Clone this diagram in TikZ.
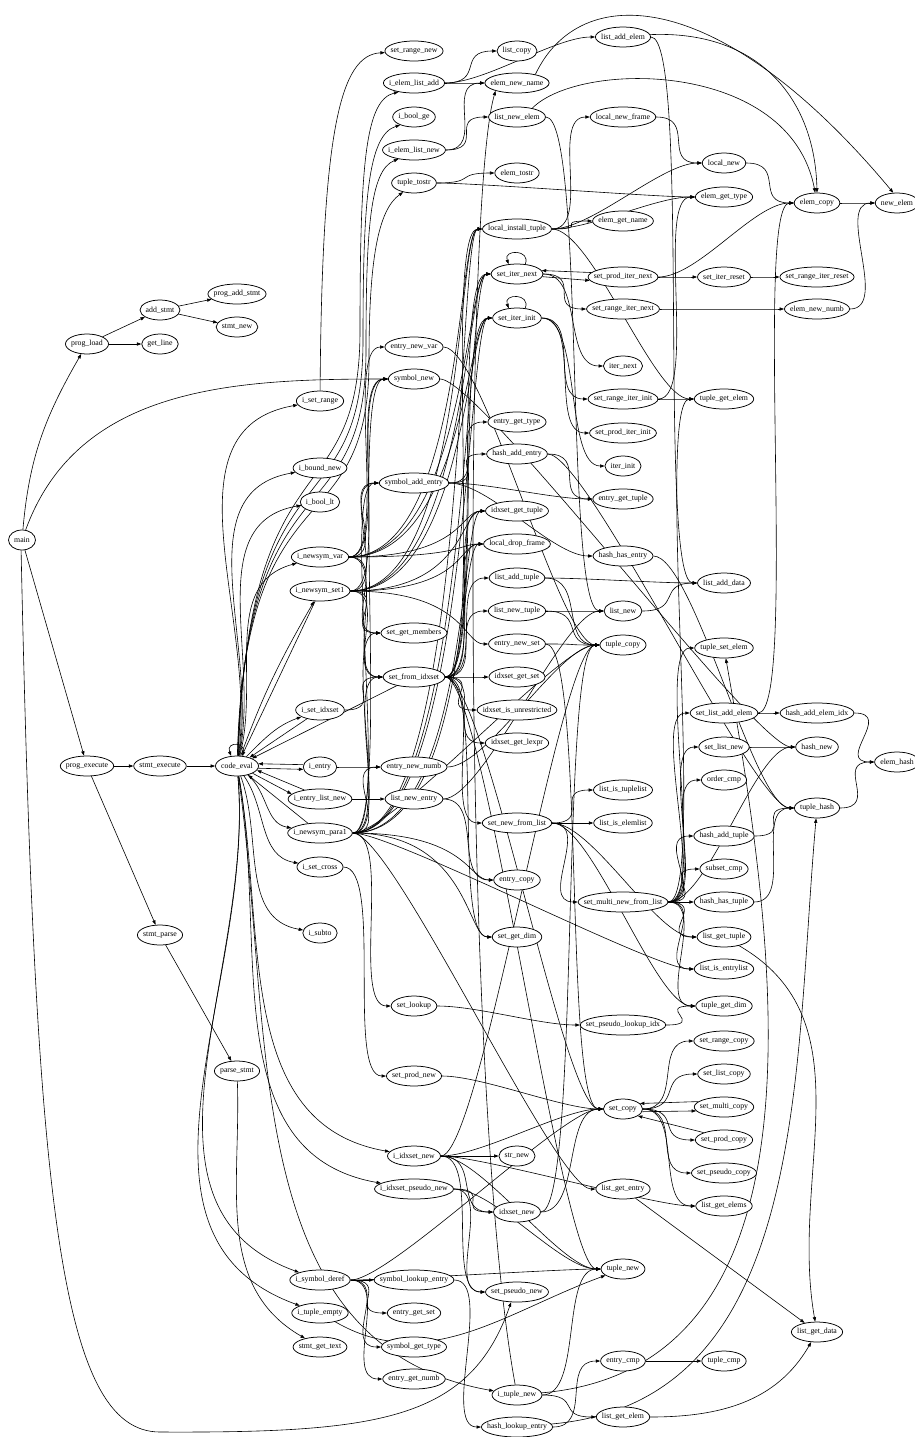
\documentclass[tikz,border=0pt]{standalone}
\usepackage{fontspec}
\setmainfont{Liberation Serif}
\usetikzlibrary{arrows.meta, shapes.geometric, calc}
\pgfdeclarelayer{back}
\pgfdeclarelayer{front}
\pgfsetlayers{back,main,front}
\newcommand\fnfont{\fontsize{7.8}{9}\selectfont}
\tikzset{
	fnbox/.style={ellipse, draw, line width=0.75pt, fill=white, inner sep=0pt, minimum height=20pt},
	fntext/.style={font=\fnfont, inner sep=0pt},
	call/.style={-{Triangle[length=4.5pt,width=3.2pt]}, line width=0.6pt},
	sway/.style={out=0, in=180, distance=40pt},
	bus/.style={out=0, in=180, out distance=115pt, in distance=25pt},
	line/.style={to path={-- (\tikztotarget) \tikztonodes}},
}
\newcommand\fn[3]{%
	\begin{pgfonlayer}{front}
		\node[fntext] (#1-t) at (#2,#3) {\detokenize{#1}};
	\end{pgfonlayer}
	\path let \p1=(#1-t.west), \p2=(#1-t.east) in node[fnbox, minimum width=\x2-\x1+11pt] (#1) at (#2,#3) {};}

\begin{document}
\begin{tikzpicture}[x=1pt, y=-1pt]
	\def\colA{22}
	\def\colB{87}
	\def\colC{160}
	\def\colD{237}
	\def\colE{320}
	\def\colF{414}
	\def\colG{517}
	\def\colH{623}
	\def\colI{724}
	\def\colJ{817}
	\def\colK{897}
	\useasboundingbox (0,0) rectangle (915,1437);

	\fn{main}{\colA}{540}
	\fn{prog_load}{\colB}{344}
	\fn{prog_execute}{\colB}{766}
	\fn{add_stmt}{\colC}{310}
	\fn{get_line}{\colC}{344}
	\fn{stmt_execute}{\colC}{766}
	\fn{stmt_parse}{\colC}{935}
	\fn{prog_add_stmt}{\colD}{294}
	\fn{stmt_new}{\colD}{327}
	\fn{code_eval}{\colD}{766}
	\fn{parse_stmt}{\colD}{1071}

	\fn{i_set_range}{\colE}{401}
	\fn{i_bound_new}{\colE}{468}
	\fn{i_bool_lt}{\colE}{502}
	\fn{i_newsym_var}{\colE}{557}
	\fn{i_newsym_set1}{\colE}{591}
	\fn{i_set_idxset}{\colE}{710}
	\fn{i_entry}{\colE}{767}
	\fn{i_entry_list_new}{\colE}{799}
	\fn{i_newsym_para1}{\colE}{833}
	\fn{i_set_cross}{\colE}{867}
	\fn{i_subto}{\colE}{933}
	\fn{i_symbol_deref}{\colE}{1280}
	\fn{i_tuple_empty}{\colE}{1313}
	\fn{stmt_get_text}{\colE}{1347}

	\fn{set_range_new}{\colF}{51}
	\fn{i_elem_list_add}{\colF}{83}
	\fn{i_bool_ge}{\colF}{117}
	\fn{i_elem_list_new}{\colF}{150}
	\fn{tuple_tostr}{\colF}{183}
	\fn{entry_new_var}{\colF}{347}
	\fn{symbol_new}{\colF}{379}
	\fn{symbol_add_entry}{\colF}{483}
	\fn{set_get_members}{\colF}{633}
	\fn{set_from_idxset}{\colF}{677}
	\fn{entry_new_numb}{\colF}{767}
	\fn{list_new_entry}{\colF}{799}
	\fn{set_lookup}{\colF}{1006}
	\fn{set_prod_new}{\colF}{1076}
	\fn{i_idxset_new}{\colF}{1156}
	\fn{i_idxset_pseudo_new}{\colF}{1189}
	\fn{symbol_lookup_entry}{\colF}{1280}
	\fn{entry_get_set}{\colF}{1313}
	\fn{symbol_get_type}{\colF}{1347}
	\fn{entry_get_numb}{\colF}{1379}

	\fn{list_copy}{\colG}{51}
	\fn{elem_new_name}{\colG}{83}
	\fn{list_new_elem}{\colG}{117}
	\fn{elem_tostr}{\colG}{173}
	\fn{local_install_tuple}{\colG}{229}
	\fn{set_iter_next}{\colG}{274}
	\fn{set_iter_init}{\colG}{318}
	\fn{entry_get_type}{\colG}{422}
	\fn{hash_add_entry}{\colG}{454}
	\fn{idxset_get_tuple}{\colG}{511}
	\fn{local_drop_frame}{\colG}{544}
	\fn{list_add_tuple}{\colG}{578}
	\fn{list_new_tuple}{\colG}{611}
	\fn{entry_new_set}{\colG}{644}
	\fn{idxset_get_set}{\colG}{677}
	\fn{idxset_is_unrestricted}{\colG}{710}
	\fn{idxset_get_lexpr}{\colG}{743}
	\fn{set_new_from_list}{\colG}{823}
	\fn{entry_copy}{\colG}{880}
	\fn{set_get_dim}{\colG}{937}
	\fn{str_new}{\colG}{1156}
	\fn{idxset_new}{\colG}{1212}
	\fn{set_pseudo_new}{\colG}{1292}
	\fn{i_tuple_new}{\colG}{1395}
	\fn{hash_lookup_entry}{\colG}{1427}

	\fn{list_add_elem}{\colH}{37}
	\fn{local_new_frame}{\colH}{117}
	\fn{elem_get_name}{\colH}{221}
	\fn{set_prod_iter_next}{\colH}{277}
	\fn{set_range_iter_next}{\colH}{309}
	\fn{iter_next}{\colH}{366}
	\fn{set_range_iter_init}{\colH}{399}
	\fn{set_prod_iter_init}{\colH}{433}
	\fn{iter_init}{\colH}{466}
	\fn{entry_get_tuple}{\colH}{499}
	\fn{hash_has_entry}{\colH}{556}
	\fn{list_new}{\colH}{611}
	\fn{tuple_copy}{\colH}{645}
	\fn{list_is_tuplelist}{\colH}{790}
	\fn{list_is_elemlist}{\colH}{823}
	\fn{set_multi_new_from_list}{\colH}{902}
	\fn{set_pseudo_lookup_idx}{\colH}{1025}
	\fn{set_copy}{\colH}{1109}
	\fn{list_get_entry}{\colH}{1189}
	\fn{tuple_new}{\colH}{1269}
	\fn{entry_cmp}{\colH}{1361}
	\fn{list_get_elem}{\colH}{1417}

	\fn{local_new}{\colI}{163}
	\fn{elem_get_type}{\colI}{197}
	\fn{set_iter_reset}{\colI}{277}
	\fn{tuple_get_elem}{\colI}{399}
	\fn{list_add_data}{\colI}{583}
	\fn{tuple_set_elem}{\colI}{648}
	\fn{set_list_add_elem}{\colI}{713}
	\fn{set_list_new}{\colI}{747}
	\fn{order_cmp}{\colI}{780}
	\fn{hash_add_tuple}{\colI}{836}
	\fn{subset_cmp}{\colI}{869}
	\fn{hash_has_tuple}{\colI}{902}
	\fn{list_get_tuple}{\colI}{937}
	\fn{list_is_entrylist}{\colI}{969}
	\fn{tuple_get_dim}{\colI}{1006}
	\fn{set_range_copy}{\colI}{1041}
	\fn{set_list_copy}{\colI}{1074}
	\fn{set_multi_copy}{\colI}{1107}
	\fn{set_prod_copy}{\colI}{1140}
	\fn{set_pseudo_copy}{\colI}{1173}
	\fn{list_get_elems}{\colI}{1206}
	\fn{tuple_cmp}{\colI}{1361}

	\fn{elem_copy}{\colJ}{203}
	\fn{set_range_iter_reset}{\colJ}{277}
	\fn{elem_new_numb}{\colJ}{309}
	\fn{hash_add_elem_idx}{\colJ}{713}
	\fn{hash_new}{\colJ}{747}
	\fn{tuple_hash}{\colJ}{808}
	\fn{list_get_data}{\colJ}{1332}
	\fn{new_elem}{\colK}{203}
	\fn{elem_hash}{\colK}{762}

	\begin{pgfonlayer}{back}
	% left part
	\draw[call] (main) edge[out=85,in=-120] (prog_load) edge[out=70,in=180] (symbol_new) edge[line] (prog_execute);
	\draw[call] (main.-95) .. controls (35,1200) and (60,1432) .. (160,1432) .. controls (380,1433) and (470,1420) .. (set_pseudo_new.-120);
	\draw[call,line] (prog_load) edge (add_stmt) edge (get_line);
	\draw[call,line] (add_stmt) edge (prog_add_stmt) edge (stmt_new);
	\draw[call,line] (prog_execute) edge (stmt_execute) edge (stmt_parse);
	\draw[call,line] (stmt_execute) edge (code_eval);
	\draw[call,line] (stmt_parse) edge (parse_stmt);
	\draw[call] (parse_stmt) edge[out=-88,in=150] (stmt_get_text);

	% code_eval
	\draw[call] (code_eval.60) .. controls +(6,-15) and +(-6,-15) .. (code_eval.120);
	\draw[call] (code_eval.82) .. controls (248,430) and (360,520) .. (360,330) .. controls (360,160) and (366,100) .. (i_elem_list_add.-150);
	\draw[call] (code_eval.84) .. controls (247,440) and (363,530) .. (363,340) .. controls (363,200) and (368,135) .. (i_bool_ge.-150);
	\draw[call] (code_eval.86) .. controls (246,450) and (366,540) .. (366,350) .. controls (366,230) and (370,170) .. (i_elem_list_new.-150);
	\draw[call] (code_eval.88) .. controls (245,460) and (369,550) .. (369,360) .. controls (369,260) and (378,210) .. (tuple_tostr.-140);
	\draw[call] (code_eval)
		edge[out=82,in=190] (i_set_range)
		edge[out=80,in=190] (i_bound_new)
		edge[out=78,in=190] (i_bool_lt)
		edge[out=75,in=195] (i_newsym_var)
		edge[out=70,in=-120] (i_newsym_set1)
		edge[out=45,in=200] (i_set_idxset)
		edge[out=-40,in=170] (i_newsym_para1)
		edge[out=-55,in=170] (i_set_cross)
		edge[out=-70,in=170] (i_subto)
		edge[out=-80,in=170] (i_idxset_new)
		edge[out=-80,in=170] (i_idxset_pseudo_new)
		edge[out=-85,in=160] (i_symbol_deref)
		edge[out=-85,in=160] (i_tuple_empty)
		edge[out=-82,in=170] (i_tuple_new);
	\draw[call] (code_eval.-6) -- (i_entry.-172);
	\draw[call] (i_entry.172) -- (code_eval.6);
	\draw[call] (code_eval.-25) -- (i_entry_list_new.170);
	\draw[call] (i_entry_list_new.150) -- (code_eval.-12);

	% i_ functions
	\draw[call] (i_set_range) .. controls (322,130) and (340,55) .. (set_range_new);
	\draw[call,sway] (i_newsym_var) edge (entry_new_var) edge (symbol_new) edge (symbol_add_entry) edge (set_get_members) edge (set_from_idxset) edge[bus] (idxset_get_tuple) edge[bus] (local_drop_frame) edge[bus] (local_install_tuple) edge[bus] (set_iter_next) edge[bus] (set_iter_init);
	\draw[call,sway] (i_newsym_set1) edge (symbol_new) edge (symbol_add_entry) edge (set_get_members) edge (set_from_idxset) edge[bus] (entry_new_set) edge[bus] (idxset_get_tuple) edge[bus] (local_drop_frame) edge[bus] (local_install_tuple) edge[bus] (set_iter_next) edge[bus] (set_iter_init) edge[line] (code_eval);
	\draw[call,sway] (i_set_idxset) edge (set_from_idxset) edge[line] (code_eval);
	\draw[call,sway] (i_entry) edge (entry_new_numb);
	\draw[call,sway] (i_entry_list_new) edge (list_new_entry);
	\draw[call,sway] (i_newsym_para1) edge (symbol_new) edge (symbol_add_entry) edge (set_get_members) edge (set_from_idxset) edge[bus] (idxset_get_tuple) edge[bus] (local_drop_frame) edge[bus] (local_install_tuple) edge[bus] (set_iter_next) edge[bus] (set_iter_init) edge (entry_new_numb) edge (set_lookup) edge[bus] (set_get_dim) edge[bus] (entry_copy) edge (list_is_entrylist) edge (list_get_entry) edge (tuple_copy) edge[line] (code_eval);
	\draw[call,sway] (i_set_cross) edge (set_prod_new);
	\draw[call,sway] (i_symbol_deref) edge (symbol_lookup_entry) edge (entry_get_set) edge (symbol_get_type) edge (entry_get_numb) edge (tuple_new) edge (set_copy);
	\draw[call] (i_tuple_empty) edge[out=-30,in=-160] (tuple_new);
	\draw[call,sway] (i_idxset_new) edge (str_new) edge (idxset_new) edge (set_pseudo_new) edge (tuple_new) edge (set_copy) edge (tuple_copy) edge (list_get_elems);
	\draw[call,sway] (i_idxset_pseudo_new) edge (idxset_new) edge (set_pseudo_new) edge (tuple_new);
	\draw[call,sway] (i_tuple_new) edge (tuple_new) edge (list_get_elem);
	\draw[call] (i_tuple_new) edge[out=5,in=-80] (tuple_set_elem);
	\draw[call] (i_tuple_new.100) .. controls (463,1100) and (463,200) .. (elem_new_name.200);
	\draw[call,sway] (i_elem_list_add) edge (list_copy) edge (elem_new_name) edge (list_add_elem);
	\draw[call,sway] (i_elem_list_new) edge (list_new_elem) edge (elem_new_name);

	% middle part
	\draw[call,sway] (tuple_tostr) edge (elem_tostr) edge (elem_get_type);
	\draw[call,sway] (entry_new_var) edge (tuple_copy);
	\draw[call,sway] (symbol_new) edge (hash_new);
	\draw[call,sway] (symbol_add_entry) edge (entry_get_type) edge (hash_add_entry) edge (hash_has_entry) edge (entry_get_tuple);
	\draw[call,sway] (set_from_idxset) edge (idxset_get_set) edge (idxset_is_unrestricted) edge (idxset_get_lexpr) edge (idxset_get_tuple) edge (set_iter_init) edge (set_iter_next) edge (local_install_tuple) edge (local_drop_frame) edge (list_add_tuple) edge (list_new_tuple) edge (set_new_from_list) edge (set_get_dim) edge (set_copy) edge (tuple_new) edge[line] (code_eval);
	\draw[call,sway] (entry_new_numb) edge (tuple_copy);
	\draw[call,sway] (list_new_entry) edge (list_new) edge (entry_copy);
	\draw[call,sway] (set_lookup) edge (set_pseudo_lookup_idx);
	\draw[call,sway] (set_prod_new) edge (set_copy);
	\draw[call,sway] (symbol_lookup_entry) edge (hash_lookup_entry);
	\draw[call] (elem_new_name.25) .. controls (580,-20) and (720,-15) .. (new_elem.110);
	\draw[call] (list_new_elem.30) .. controls (580,60) and (790,60) .. (elem_copy.100);
	\draw[call,sway] (list_new_elem) edge (list_new);
	\draw[call,sway] (local_install_tuple) edge (local_new_frame) edge (local_new) edge (elem_get_type) edge (elem_get_name) edge (tuple_get_elem);
	\draw[call] (set_iter_next.50) .. controls +(6,-15) and +(-6,-15) .. (set_iter_next.130);
	\draw[call] (set_iter_init.50) .. controls +(6,-15) and +(-6,-15) .. (set_iter_init.130);
	\draw[call,sway] (set_iter_next) edge (set_range_iter_next) edge (iter_next);
	\draw[call] (set_iter_next.-6) -- (set_prod_iter_next.-174);
	\draw[call] (set_prod_iter_next.172) -- (set_iter_next.8);
	\draw[call,sway] (set_iter_init) edge (set_range_iter_init) edge (set_prod_iter_init) edge (iter_init);
	\draw[call,sway] (hash_add_entry) edge (entry_get_tuple) edge (tuple_hash);
	\draw[call,sway] (list_add_tuple) edge (list_add_data) edge (tuple_copy);
	\draw[call,sway] (list_new_tuple) edge (list_new) edge (tuple_copy);
	\draw[call,sway] (entry_new_set) edge (tuple_copy) edge (set_copy);
	\draw[call,sway] (set_new_from_list) edge (list_is_tuplelist) edge (list_is_elemlist) edge (set_multi_new_from_list) edge (list_get_tuple) edge (tuple_get_dim);
	\draw[call,sway] (idxset_new) edge (set_copy) edge (tuple_copy);
	\draw[call,sway] (hash_lookup_entry) edge (entry_cmp);
	\draw[call] (hash_lookup_entry) edge[out=5,in=-95] (tuple_hash);
	\draw[call] (list_get_elem) edge[out=0,in=-120] (list_get_data);

	% right part
	\draw[call] (list_add_elem.5) .. controls (760,30) and (815,100) .. (elem_copy.90);
	\draw[call,sway] (list_add_elem) edge (list_add_data);
	\draw[call,sway] (local_new_frame) edge (local_new);
	\draw[call,sway] (set_prod_iter_next) edge (set_iter_reset) edge (elem_copy);
	\draw[call,sway] (set_range_iter_next) edge (elem_new_numb);
	\draw[call,sway] (set_iter_reset) edge (set_range_iter_reset);
	\draw[call,sway] (set_range_iter_init) edge (tuple_get_elem) edge (elem_get_type);
	\draw[call,sway] (hash_has_entry) edge (tuple_hash);
	\draw[call,sway] (list_new) edge (list_add_data);
	\draw[call,sway] (set_multi_new_from_list) edge (set_list_add_elem) edge (set_list_new) edge (order_cmp) edge (hash_add_tuple) edge (subset_cmp) edge (hash_has_tuple) edge (list_get_tuple) edge (list_is_entrylist) edge (tuple_get_dim) edge (hash_new) edge (tuple_set_elem) edge (tuple_get_elem);
	\draw[call,sway] (set_pseudo_lookup_idx) edge (tuple_get_dim);
	\draw[call,sway] (set_copy) edge (set_range_copy) edge (set_list_copy) edge (set_prod_copy) edge (set_pseudo_copy) edge (list_get_elems);
	\draw[call] (set_copy.-8) -- (set_multi_copy.-172);
	\draw[call] (set_multi_copy.168) -- (set_copy.18);
	\draw[call] (set_prod_copy.160) -- (set_copy.-25);
	\draw[call,sway] (entry_cmp) edge (tuple_cmp);
	\draw[call,line] (list_get_entry) edge (list_get_data);
	\draw[call,sway] (local_new) edge (elem_copy);
	\draw[call,sway] (set_list_add_elem) edge (hash_add_elem_idx) edge (elem_copy);
	\draw[call,sway] (set_list_new) edge (hash_new);
	\draw[call,sway] (hash_add_tuple) edge (tuple_hash);
	\draw[call,sway] (hash_has_tuple) edge (tuple_hash);
	\draw[call] (list_get_tuple) edge[out=-30,in=100] (list_get_data);
	\draw[call,sway] (elem_copy) edge (new_elem);
	\draw[call,sway] (elem_new_numb) edge (new_elem);
	\draw[call,sway] (hash_add_elem_idx) edge (elem_hash);
	\draw[call,sway] (tuple_hash) edge (elem_hash);
	\end{pgfonlayer}
\end{tikzpicture}
\end{document}
